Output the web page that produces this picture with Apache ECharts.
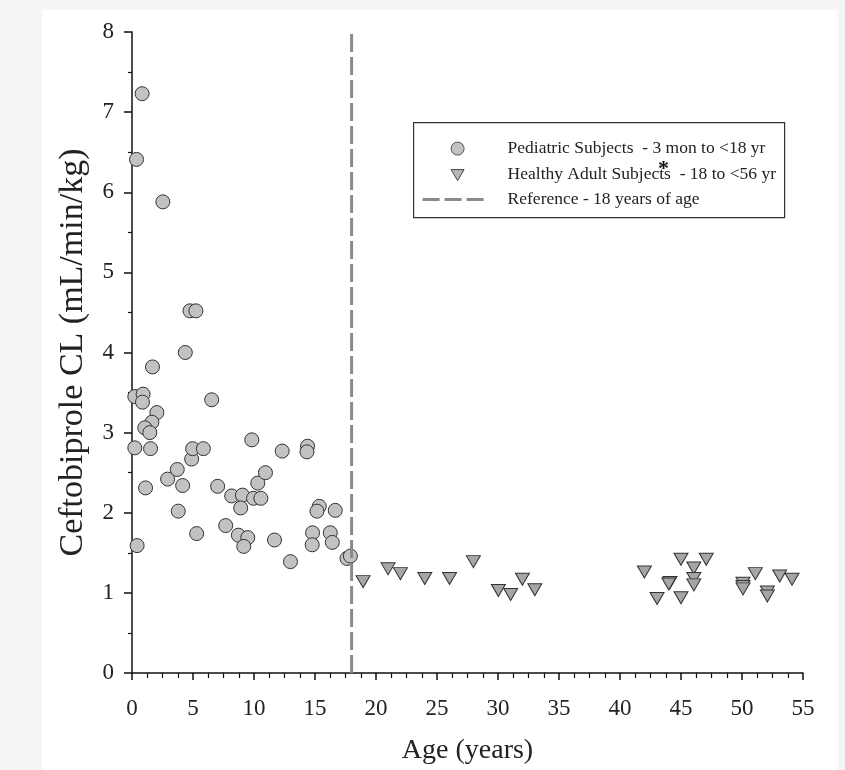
<!DOCTYPE html>
<html>
<head>
<meta charset="utf-8">
<title>Ceftobiprole CL by age</title>
<script src="https://cdn.jsdelivr.net/npm/echarts@6/dist/echarts.min.js"></script>
<style>
  html, body {
    margin: 0;
    padding: 0;
    background: #f5f5f5;
  }
  #main {
    position: absolute;
    left: 42px;
    top: 10px;
    width: 796px;
    height: 760px;
    background: #fff;
  }
</style>
</head>
<body>
<div id="main"></div>
<script>
// pediatric subjects: age (years) and clearance (mL/min/kg)
var pedAge = [0.83, 0.37, 2.53, 4.75, 5.24, 4.37, 1.68, 0.23, 0.91, 0.86,
  2.04, 1.63, 1.05, 1.46, 0.23, 1.52, 1.11, 0.42, 6.53, 2.92,
  3.71, 4.15, 3.79, 4.89, 4.97, 5.85, 5.30, 9.82, 7.02, 8.17,
  9.05, 8.91, 9.96, 10.56, 10.31, 10.94, 7.68, 8.72, 9.49, 9.16,
  12.31, 11.68, 12.99, 14.39, 14.34, 15.35, 15.16, 16.66, 14.80, 14.77,
  16.25, 16.42, 17.62, 17.90]
var pedCL = [7.23, 6.41, 5.88, 4.52, 4.52, 4.00, 3.82, 3.45, 3.48, 3.38,
  3.25, 3.13, 3.06, 3.00, 2.81, 2.80, 2.31, 1.59, 3.41, 2.42,
  2.54, 2.34, 2.02, 2.67, 2.80, 2.80, 1.74, 2.91, 2.33, 2.21,
  2.22, 2.06, 2.18, 2.18, 2.37, 2.50, 1.84, 1.72, 1.69, 1.58,
  2.77, 1.66, 1.39, 2.83, 2.76, 2.08, 2.02, 2.03, 1.75, 1.60,
  1.75, 1.63, 1.43, 1.46]

// healthy adult subjects
var adultAge = [18.94, 20.99, 22.0, 24.0, 26.03, 27.98, 30.03, 31.04, 32.0, 33.02,
  42.0, 43.04, 44.1, 44.0, 45.0, 45.0, 46.05, 46.05, 46.05, 47.07,
  50.08, 50.08, 50.08, 51.09, 52.08, 52.08, 53.09, 54.1]
var adultCL = [1.14, 1.30, 1.24, 1.18, 1.18, 1.39, 1.03, 0.98, 1.17, 1.04,
  1.26, 0.93, 1.13, 1.11, 1.42, 0.94, 1.31, 1.18, 1.10, 1.42,
  1.12, 1.08, 1.05, 1.24, 1.01, 0.96, 1.21, 1.17]

// reference line at 18 years
var refAge = [18, 18]
var refCL = [0, 8]

var legendLabels = [
  'Pediatric Subjects  - 3 mon to <18 yr',
  'Healthy Adult Subjects  - 18 to <56 yr',
  'Reference - 18 years of age'
]

function pairs(xs, ys) {
  return xs.map(function (x, i) { return [x, ys[i]] })
}

var serif = '"Liberation Serif", "DejaVu Serif", serif'

var myChart = echarts.init(document.getElementById('main'))
var option = {
  animation: false,
  backgroundColor: '#fff',
  grid: {
    left: 90,
    top: 22,
    right: 35,
    bottom: 97
  },
  xAxis: {
    type: 'value',
    min: 0,
    max: 55,
    interval: 5,
    name: 'Age (years)',
    nameLocation: 'middle',
    nameGap: 64,
    nameTextStyle: { fontFamily: serif, fontSize: 28, color: '#222' },
    axisLine: { onZero: false, lineStyle: { color: '#111', width: 1.5 } },
    axisTick: { length: 7, lineStyle: { color: '#111', width: 1.5 } },
    minorTick: { show: true, splitNumber: 4, length: 5, lineStyle: { color: '#111', width: 1.2 } },
    axisLabel: { fontFamily: serif, fontSize: 23, color: '#222', margin: 24 },
    splitLine: { show: false }
  },
  yAxis: {
    type: 'value',
    min: 0,
    max: 8,
    interval: 1,
    name: 'Ceftobiprole CL (mL/min/kg)',
    nameLocation: 'middle',
    nameGap: 42,
    nameTextStyle: { fontFamily: serif, fontSize: 34, color: '#222' },
    axisLine: { onZero: false, lineStyle: { color: '#111', width: 1.5 } },
    axisTick: { length: 8, lineStyle: { color: '#111', width: 1.5 } },
    minorTick: { show: true, splitNumber: 2, length: 4, lineStyle: { color: '#111', width: 1.2 } },
    axisLabel: { fontFamily: serif, fontSize: 23, color: '#222', margin: 18 },
    splitLine: { show: false }
  },
  series: [{
    name: legendLabels[0],
    type: 'scatter',
    symbol: 'circle',
    symbolSize: 14,
    itemStyle: { color: '#c2c2c2', borderColor: '#333', borderWidth: 1, opacity: 1 },
    data: pairs(pedAge, pedCL)
  }, {
    name: legendLabels[1],
    type: 'scatter',
    symbol: 'triangle',
    symbolRotate: 180,
    symbolSize: [14, 12],
    itemStyle: { color: '#a6a6a6', borderColor: '#333', borderWidth: 1, opacity: 1 },
    data: pairs(adultAge, adultCL)
  }, {
    name: legendLabels[2],
    type: 'line',
    symbol: 'none',
    silent: true,
    lineStyle: { color: '#8a8a8a', width: 3, type: [18, 5] },
    data: pairs(refAge, refCL)
  }],
  graphic: [{
    type: 'group',
    left: 371,
    top: 112,
    children: [{
      type: 'rect',
      shape: { x: 0, y: 0, width: 371, height: 95 },
      style: { fill: '#fff', stroke: '#333', lineWidth: 1.2 }
    }, {
      type: 'circle',
      shape: { cx: 44, cy: 26, r: 6.5 },
      style: { fill: '#c2c2c2', stroke: '#555', lineWidth: 1 }
    }, {
      type: 'polygon',
      shape: { points: [[37.5, 47], [50.5, 47], [44, 58]] },
      style: { fill: '#b8b8b8', stroke: '#444', lineWidth: 1 }
    }, {
      type: 'line',
      shape: { x1: 9, y1: 77, x2: 71, y2: 77 },
      style: { stroke: '#8a8a8a', lineWidth: 3, lineDash: [17, 5] }
    }, {
      type: 'text',
      x: 94, y: 26,
      style: { text: legendLabels[0], font: '17.5px ' + serif, fill: '#222', verticalAlign: 'middle' }
    }, {
      type: 'text',
      x: 94, y: 52,
      style: { text: legendLabels[1], font: '17.5px ' + serif, fill: '#222', verticalAlign: 'middle' }
    }, {
      type: 'text',
      x: 94, y: 77,
      style: { text: legendLabels[2], font: '17.5px ' + serif, fill: '#222', verticalAlign: 'middle' }
    }, {
      type: 'text',
      x: 250, y: 47,
      style: { text: '*', font: 'bold 22px ' + serif, fill: '#111', align: 'center', verticalAlign: 'middle' }
    }]
  }]
}
myChart.setOption(option)
</script>
</body>
</html>
